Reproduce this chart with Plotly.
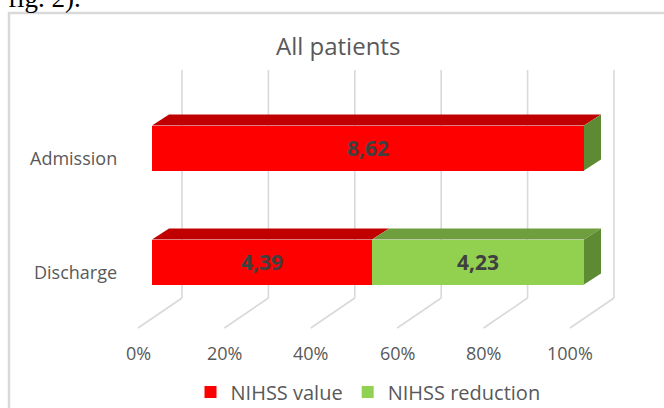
import plotly.graph_objects as go

# ---------------- data ----------------
categories = ["Admission", "Discharge"]
series_names = ["NIHSS value", "NIHSS reduction"]
nihss_value = [8.62, 4.39]
nihss_reduction = [0.0, 4.23]
tick_values = [0, 20, 40, 60, 80, 100]
tick_labels = ["0%", "20%", "40%", "60%", "80%", "100%"]
title_text = "All patients"

# ---------------- style ----------------
front_colors = ["#FF0000", "#92D050"]
top_colors = ["#C00000", "#6F9E3E"]
side_colors = ["#B00000", "#5F8A34"]
grid_color = "#D9D9D9"
label_color = "#595959"
value_color = "#404040"
FONT = "Open Sans"

W, H = 664, 408
L, R, T, B = 120, 640, 60, 340          # plot area in pixels
X0_PX, X100_PX = 152, 584               # bar front face 0% .. 100%
ROW0_PX, ROW_STEP = 148, 114            # bar centre pixel rows
ppx = (X100_PX - X0_PX) / 100.0         # pixels per percent
ux = 1.0 / ppx                          # percent per pixel
uy = 1.0 / ROW_STEP                     # row units per pixel

x_range = [(L - X0_PX) * ux, (R - X0_PX) * ux]
y_range = [(B - ROW0_PX) * uy, (T - ROW0_PX) * uy]   # reversed
bar_w = 45 * uy
depth_dx, depth_dy = 17 * ux, 11 * uy

def paper_x(px):
    return (px - L) / (R - L)

def paper_y(py):
    return (B - py) / (B - T)

ypos = list(range(len(categories)))
series = [nihss_value, nihss_reduction]

def fmt(v):
    return "" if v == 0 else f"{v:.2f}".replace(".", ",")

fig = go.Figure()
for name, vals, col in zip(series_names, series, front_colors):
    fig.add_trace(go.Bar(
        y=ypos, x=vals, orientation="h", name=name, width=bar_w,
        marker=dict(color=col, line=dict(width=0)),
        text=[fmt(v) for v in vals], textposition="inside",
        insidetextanchor="middle", textangle=0, constraintext="none",
        textfont=dict(family=FONT, size=21, color=value_color, weight="bold"),
        hoverinfo="skip",
    ))

shapes = []
# back wall gridlines and floor lines
g_back = 30 * ux
g_front = -14 * ux
y_top, y_floor_back, y_floor_front = (70 - ROW0_PX) * uy, (298 - ROW0_PX) * uy, (328 - ROW0_PX) * uy
for v in tick_values:
    shapes.append(dict(type="line", xref="x", yref="y", x0=v + g_back, x1=v + g_back,
                       y0=y_top, y1=y_floor_back, line=dict(color=grid_color, width=1.6),
                       layer="below"))
    shapes.append(dict(type="line", xref="x", yref="y", x0=v + g_back, x1=v + g_front,
                       y0=y_floor_back, y1=y_floor_front, line=dict(color=grid_color, width=1.6),
                       layer="below"))

# 3D faces of the bars (percent stacking)
for i, yi in enumerate(ypos):
    total = sum(s[i] for s in series)
    cum = 0.0
    for k, s in enumerate(series):
        a = cum / total * 100
        cum += s[i]
        b = cum / total * 100
        yt = yi - bar_w / 2
        if b > a:
            path = (f"M{a},{yt} L{b},{yt} L{b + depth_dx},{yt - depth_dy} "
                    f"L{a + depth_dx},{yt - depth_dy} Z")
            shapes.append(dict(type="path", xref="x", yref="y", path=path,
                               fillcolor=top_colors[k], line=dict(width=0), layer="above"))
    # side face at end of stack, coloured by last series
    yt, yb = yi - bar_w / 2, yi + bar_w / 2
    e = 100.0
    path = (f"M{e},{yt} L{e + depth_dx},{yt - depth_dy} L{e + depth_dx},{yb - depth_dy} "
            f"L{e},{yb} Z")
    shapes.append(dict(type="path", xref="x", yref="y", path=path,
                       fillcolor=side_colors[-1], line=dict(width=0), layer="above"))

# chart border (top & left visible)
shapes.append(dict(type="path", xref="paper", yref="paper",
                   path=f"M{paper_x(9)},{paper_y(430)} L{paper_x(9)},{paper_y(13)} L{paper_x(680)},{paper_y(13)}",
                   line=dict(color=grid_color, width=2.5), layer="below"))

annotations = []
for v, t in zip(tick_values, tick_labels):
    annotations.append(dict(x=v + g_front, xref="x", y=paper_y(353), yref="paper",
                            text=t, showarrow=False, xanchor="center", yanchor="middle",
                            font=dict(family=FONT, size=18, color=label_color)))
for yi, c in zip(ypos, categories):
    annotations.append(dict(x=paper_x(119), xref="paper", y=yi + 10 * uy, yref="y",
                            text=c, showarrow=False, xanchor="right", yanchor="middle",
                            font=dict(family=FONT, size=18, color=label_color)))
annotations.append(dict(x=paper_x(338), xref="paper", y=paper_y(46), yref="paper",
                        text=title_text, showarrow=False, xanchor="center", yanchor="middle",
                        font=dict(family=FONT, size=24, color=label_color)))
annotations.append(dict(x=paper_x(6), xref="paper", y=paper_y(15), yref="paper",
                        text="fig. 2).", showarrow=False, xanchor="left", yanchor="bottom",
                        font=dict(family="Liberation Serif", size=27, color="#000000")))

fig.update_layout(
    width=W, height=H, autosize=False,
    margin=dict(l=L, r=W - R, t=T, b=H - B, autoexpand=False),
    paper_bgcolor="white", plot_bgcolor="rgba(0,0,0,0)",
    barmode="stack", barnorm="percent",
    xaxis=dict(range=x_range, visible=False, fixedrange=True),
    yaxis=dict(range=y_range, visible=False, fixedrange=True),
    shapes=shapes, annotations=annotations,
    showlegend=True,
    legend=dict(orientation="h", x=paper_x(368), xanchor="center", y=paper_y(392),
                yanchor="middle", font=dict(family=FONT, size=20, color=label_color),
                itemwidth=30, traceorder="normal", bgcolor="rgba(0,0,0,0)"),
    font=dict(family=FONT),
)

fig.write_html(
    "out.html",
    config={"displayModeBar": False},
    post_script="document.body.style.margin='0';document.body.style.padding='0';"
                "document.body.style.overflow='hidden';",
)
